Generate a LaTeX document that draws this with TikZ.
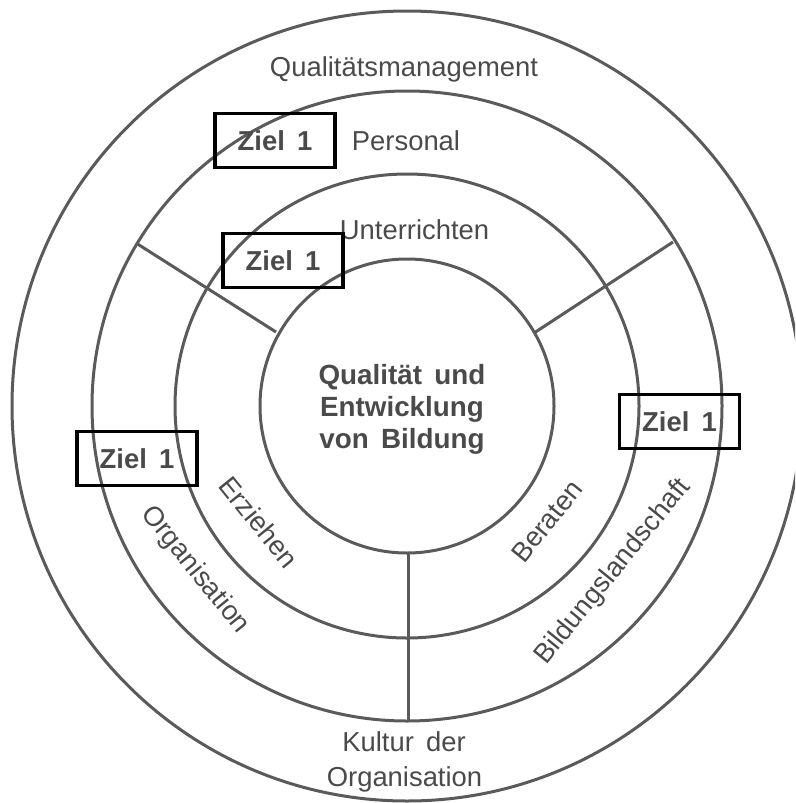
\documentclass[tikz,border=0pt]{standalone}
\usepackage{fontspec}
\setmainfont{Liberation Sans}[WordSpace=1.6]
\definecolor{ringgray}{HTML}{5A5A5A}
\definecolor{txtgray}{HTML}{4A4A4A}
\begin{document}
\begin{tikzpicture}[x=1pt,y=-1pt,
  ring/.style={draw=ringgray, line width=3pt},
  divider/.style={draw=ringgray, line width=3pt},
  lbl/.style={text=txtgray, font=\fontsize{27.4}{32}\selectfont, inner sep=0pt},
  ziel/.style={draw=black, line width=3.5pt, minimum width=120pt, minimum height=54pt,
    inner sep=0pt, text=txtgray, font=\fontsize{27.4}{32}\selectfont\bfseries}]
\useasboundingbox (0,0) rectangle (795,803);
\clip (0,0) rectangle (795,803);
\coordinate (C) at (407,406);
% rings
\draw[ring] (C) circle[radius=395pt];
\draw[ring] (C) circle[radius=315pt];
\draw[ring] (C) circle[radius=232pt];
\draw[ring] (C) circle[radius=147pt];
% dividers
\coordinate (ulO) at (136,243);
\coordinate (ulI) at (276,332);
\coordinate (urO) at (673,242);
\coordinate (urI) at (534,333);
\coordinate (bI) at (408,553);
\coordinate (bO) at (408,721);
\draw[divider] (ulO) -- (ulI);
\draw[divider] (urO) -- (urI);
\draw[divider] (bI) -- (bO);
% labels
\node[lbl, anchor=base] (qm) at (404,76) {Qualitätsmanagement};
\node[lbl, anchor=base] (pers) at (406,150) {Personal};
\node[lbl, anchor=base] (unt) at (414.5,239) {Unterrichten};
\node[lbl, anchor=base] (kult1) at (404,751.5) {Kultur der};
\node[lbl, anchor=base] (kult2) at (404.5,786.5) {Organisation};
\node[lbl, rotate=-51] (org) at (195,570) {Organisation};
\node[lbl, rotate=-51] (erz) at (259,522) {Erziehen};
\node[lbl, rotate=51] (ber) at (547,521) {Beraten};
\node[lbl, rotate=51] (bild) at (613,572) {Bildungslandschaft};
\node[lbl, font=\fontsize{27.8}{32}\selectfont\bfseries, align=center] (core) at (402,409)
  {Qualität und\\Entwicklung\\von Bildung};
% Ziel boxes
\node[ziel] (z1) at (275,140.5) {Ziel 1};
\node[ziel] (z2) at (283,260.5) {Ziel 1};
\node[ziel] (z3) at (137,458.5) {Ziel 1};
\node[ziel] (z4) at (679.5,421.5) {Ziel 1};
\end{tikzpicture}
\end{document}
